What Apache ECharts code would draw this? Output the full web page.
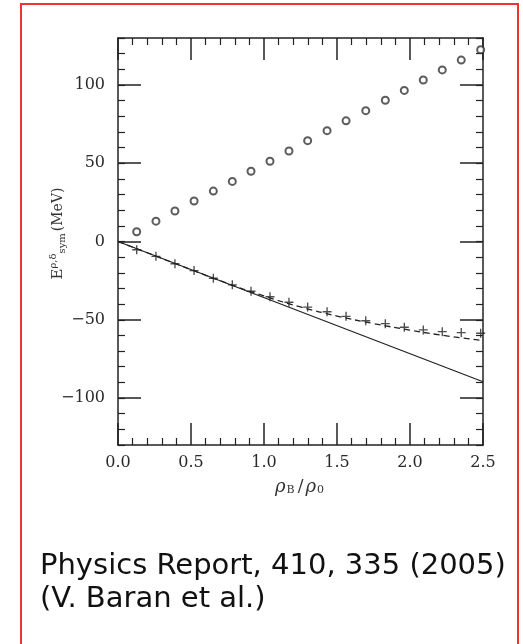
<!DOCTYPE html>
<html>
  <head>
    <meta charset="utf-8" />
    <title></title>
    <style type="text/css">
      html,
      body {
        margin: 0;
        width: 100%;
        height: 100%;
        background: #fff;
      }
      #chart {
        width: 523px;
        height: 644px;
      }
    </style>
  </head>
  <body>
    <div id="chart"></div>
    <script src="https://cdn.jsdelivr.net/npm/echarts@6/dist/echarts.min.js"></script>
    <script type="text/javascript">
      // densities rho_B/rho_0 of the computed points
      var rhoPts = [0.128, 0.26, 0.39, 0.521, 0.653, 0.783, 0.911, 1.041, 1.171, 1.299,
        1.432, 1.562, 1.697, 1.831, 1.961, 2.091, 2.221, 2.351, 2.484];
      // open circles (rho part)
      var eRho = [6.2, 13.0, 19.5, 25.9, 32.2, 38.4, 44.9, 51.3, 57.8, 64.4,
        70.8, 77.1, 83.6, 90.2, 96.5, 103.2, 109.6, 115.9, 122.5];
      // crosses (delta part)
      var eDelta = [-5.3, -9.5, -14.2, -18.6, -23.5, -27.7, -31.8, -35.3, -38.8, -41.9,
        -44.9, -47.8, -50.6, -52.5, -54.8, -56.5, -57.6, -58.2, -58.6];
      // solid line
      var lineX = [0, 2.5];
      var lineY = [0, -89.6];
      // dashed curve
      var dashX = [0, 0.25, 0.5, 0.75, 1.0, 1.25, 1.5, 1.75, 2.0, 2.25, 2.5];
      var dashY = [0, -9, -18, -26.8, -34.8, -41.8, -47.6, -52.4, -56.6, -60.3, -63.3];
      var yMajor = [-100, -50, 0, 50, 100];
      var caption = ["Physics Report, 410, 335 (2005)", "(V. Baran et al.)"];

      function zip(xs, ys) {
        return xs.map(function (x, i) {
          return [x, ys[i]];
        });
      }

      var ink = "#222";
      var serif = "DejaVu Serif";
      var plus = "path://M3.4,0H4.6V3.4H8V4.6H4.6V8H3.4V4.6H0V3.4H3.4Z";

      function xAx(pos, withLabel) {
        return {
          type: "value",
          position: pos,
          min: 0,
          max: 2.5,
          interval: 0.5,
          axisLine: { show: true, onZero: false, lineStyle: { color: ink, width: 1.5 } },
          axisTick: { show: true, inside: true, length: 22, lineStyle: { color: ink, width: 1.5 } },
          minorTick: { show: true, splitNumber: 5, length: 7, lineStyle: { color: ink, width: 1.2 } },
          splitLine: { show: false },
          minorSplitLine: { show: false },
          axisLabel: {
            show: withLabel,
            margin: 10,
            color: "#2a2a2a",
            fontFamily: serif,
            fontSize: 16,
            formatter: function (v) {
              return v.toFixed(1);
            },
          },
        };
      }

      function yAx(pos, major, withLabel) {
        var ax = {
          type: "value",
          position: pos,
          offset: 0,
          min: -130,
          max: 130,
          axisLine: { show: !major, onZero: false, lineStyle: { color: ink, width: 1.5 } },
          splitLine: { show: false },
          axisLabel: { show: false },
        };
        if (major) {
          ax.axisTick = {
            show: true,
            inside: true,
            length: 23,
            customValues: yMajor,
            lineStyle: { color: ink, width: 1.5 },
          };
        } else {
          ax.interval = 10;
          ax.axisTick = { show: true, inside: true, length: 7, lineStyle: { color: ink, width: 1.2 } };
          ax.axisLabel = {
            show: withLabel,
            margin: 13,
            color: "#2a2a2a",
            fontFamily: serif,
            fontSize: 16,
            formatter: function (v) {
              if (v % 50 !== 0) return "";
              return v < 0 ? "\u2212" + -v : "" + v;
            },
          };
        }
        return ax;
      }

      var chart = echarts.init(document.getElementById("chart"));

      var xBottom = xAx("bottom", true);
      xBottom.name = "{r|\u03c1}{s|B}{n|/}{r|\u03c1}{s|0}";
      xBottom.nameLocation = "middle";
      xBottom.nameGap = 33;
      xBottom.nameTextStyle = {
        color: "#333",
        rich: {
          r: { fontFamily: serif, fontStyle: "italic", fontSize: 18, color: "#333" },
          s: { fontFamily: serif, fontSize: 11, color: "#333", padding: [7, 2, 0, 1] },
          n: { fontFamily: serif, fontSize: 17, color: "#333", padding: [0, 2, 0, 1] },
        },
      };

      var yLeft = yAx("left", false, true);
      yLeft.name = "{e|E}{sup|\u03c1,\u03b4}{sub|sym}{u|(MeV)}";
      yLeft.nameLocation = "middle";
      yLeft.nameRotate = 90;
      yLeft.nameGap = 50;
      yLeft.nameMoveOverlap = false;
      yLeft.nameTextStyle = {
        color: "#333",
        rich: {
          e: { fontFamily: serif, fontSize: 15, color: "#333", padding: [0, 0, 0, 16] },
          sup: { fontFamily: serif, fontSize: 10, color: "#333", padding: [0, 0, 10, 0] },
          sub: { fontFamily: serif, fontSize: 10, color: "#333", padding: [8, 2, 0, 0] },
          u: { fontFamily: serif, fontSize: 14, color: "#333" },
        },
      };

      var option = {
        animation: false,
        backgroundColor: "#fff",
        grid: { left: 118, right: 40, top: 38, bottom: 199 },
        xAxis: [xBottom, xAx("top", false)],
        yAxis: [yLeft, yAx("left", true, false), yAx("right", false, false), yAx("right", true, false)],
        graphic: [
          {
            type: "rect",
            shape: { x: 21, y: 4, width: 497, height: 660 },
            style: { fill: null, stroke: "#ee3333", lineWidth: 2 },
            silent: true,
          },
          {
            type: "text",
            left: 40,
            top: 550,
            style: {
              text: caption.join("\n"),
              fontFamily: "DejaVu Sans",
              fontSize: 29,
              lineHeight: 33,
              fill: "#111",
            },
          },
        ],
        series: [
          {
            type: "line",
            data: zip(lineX, lineY),
            showSymbol: false,
            lineStyle: { color: ink, width: 1.3 },
            silent: true,
          },
          {
            type: "line",
            data: zip(dashX, dashY),
            smooth: true,
            showSymbol: false,
            lineStyle: { color: ink, width: 1.3, type: [6, 4] },
            silent: true,
          },
          {
            type: "scatter",
            data: zip(rhoPts, eRho),
            symbol: "emptyCircle",
            symbolSize: 7,
            itemStyle: { color: "#333", borderColor: "#333", borderWidth: 1.2 },
            silent: true,
          },
          {
            type: "scatter",
            data: zip(rhoPts, eDelta),
            symbol: plus,
            symbolSize: 9,
            itemStyle: { color: ink },
            silent: true,
          },
        ],
      };

      chart.setOption(option);
    </script>
  </body>
</html>
